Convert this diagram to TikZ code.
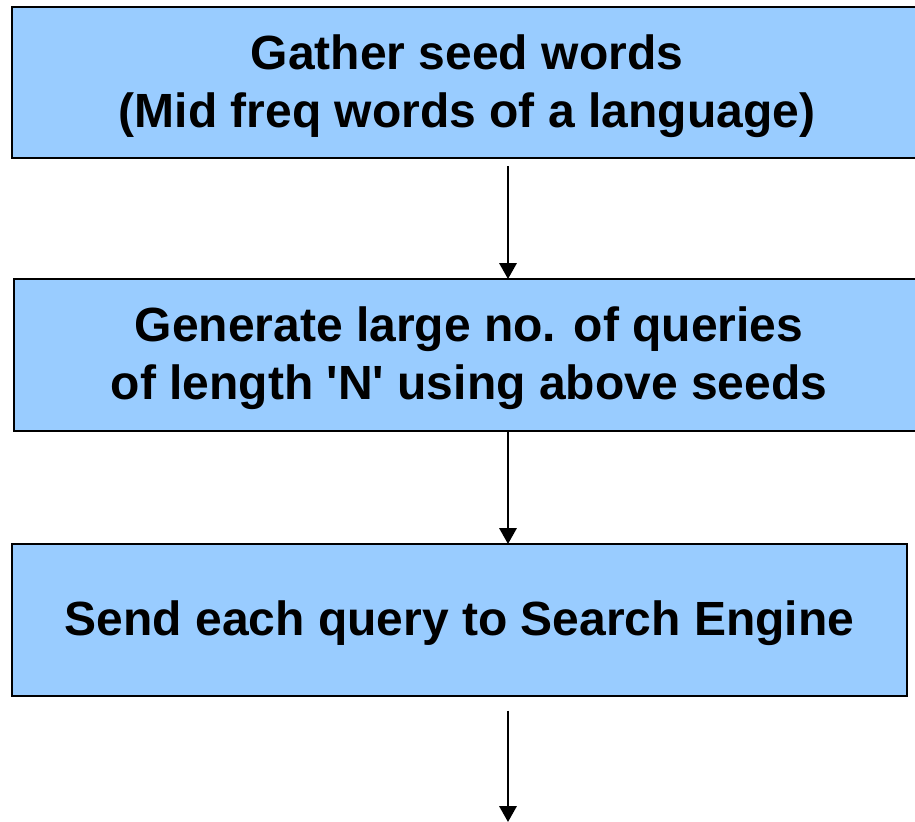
\documentclass[tikz,border=0pt]{standalone}
\usepackage{fontspec}
\setmainfont{Liberation Sans}
\usetikzlibrary{arrows.meta}
\definecolor{boxblue}{HTML}{99CCFF}
\tikzset{
  stepbox/.style={draw=black, fill=boxblue, line width=1.5pt, inner sep=0pt, outer sep=0pt},
  steptext/.style={inner sep=0pt, align=center, font=\fontsize{36pt}{43.5pt}\selectfont\bfseries},
  flow/.style={draw=black, line width=1.8pt, -{Triangle[width=13pt,length=12pt]}}
}
\begin{document}
\begin{tikzpicture}[x=0.75pt,y=-0.75pt]
\useasboundingbox (0,0) rectangle (915,822);
\clip (0,0) rectangle (915,822);
% the three step boxes
\node[stepbox, minimum width=682.5pt, minimum height=113.25pt] (gather) at (467,82.5) {};
\node[stepbox, minimum width=682.5pt, minimum height=114pt] (generate) at (469,355) {};
\node[stepbox, minimum width=671.25pt, minimum height=114pt] (send) at (459.5,620) {};
% their captions
\node[steptext] (gatherText) at ([yshift=-2.5pt]gather.center)
  {Gather seed words\\(Mid freq words of a language)};
\node[steptext] (generateText) at ([yshift=-2.5pt]generate.center)
  {Generate large no. of queries\\of length \textquotesingle N\textquotesingle{} using above seeds};
\node[steptext] (sendText) at ([yshift=-2.5pt]send.center)
  {Send each query to Search Engine};
% connectors
\coordinate (ax) at (508,0);
\coordinate (tail) at (508,822);
\draw[flow] ([yshift=-6pt]gather.south -| ax) -- (generate.north -| ax);
\draw[flow] (generate.south -| ax) -- (send.north -| ax);
\draw[flow] ([yshift=-11pt]send.south -| ax) -- (tail);
\end{tikzpicture}
\end{document}
